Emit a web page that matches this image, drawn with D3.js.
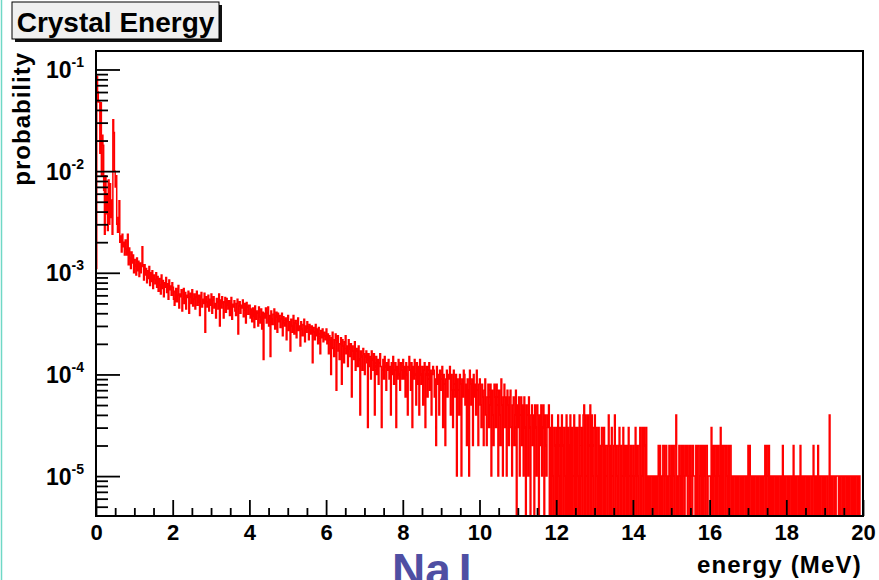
<!DOCTYPE html>
<html>
<head>
  <meta charset="utf-8">
  <title>Crystal Energy</title>
  <script src="https://d3js.org/d3.v7.min.js"></script>
  <style>
    body { margin: 0; background: #fff; }
    svg { display: block; font-family: "Liberation Sans", Arial, sans-serif; font-weight: bold; }
    .axis text { font-size: 22px; font-weight: bold; font-family: "Liberation Sans", Arial, sans-serif; fill: #000; }
    .axis line { stroke: #000; stroke-width: 1.8; }
  </style>
</head>
<body>
  <div id="chart"></div>
  <script>
    // canvas size
    const width = 879;
    const height = 580;

    // histogram: 1000 bins of 0.02 MeV, counts per 1e5 events (1 count = 1e-5 probability)
    const binWidth = 0.02;
    const probPerCount = 1e-5;

    // 0 - 2 MeV
    const counts_0_2 = [
      110, 8600, 6000, 4800, 4800, 1500, 4700, 900, 2250, 1800, 650, 240, 900, 380, 600, 260, 820, 300, 750, 350,
      520, 240, 3200, 2400, 1000, 700, 900, 300, 250, 350, 510, 200, 230, 160, 240, 180, 200, 150, 210, 170,
      150, 240, 120, 175, 140, 110, 160, 125, 150, 100, 135, 118, 95, 140, 105, 130, 92, 125, 100, 115,
      180, 120, 85, 120, 95, 110, 80, 105, 88, 115, 75, 100, 82, 105, 70, 95, 86, 78, 100, 72,
      92, 66, 88, 75, 62, 95, 70, 84, 58, 80, 72, 90, 64, 78, 55, 85, 68, 74, 60, 80];
    // 2 - 4 MeV
    const counts_2_4 = [
      72, 55, 48, 66, 70, 52, 60, 75, 45, 62, 58, 68, 42, 55, 70, 50, 64, 44, 60, 57,
      66, 40, 58, 63, 50, 68, 47, 55, 62, 44, 57, 66, 48, 52, 60, 38, 58, 64, 46, 55,
      50, 63, 26, 58, 52, 46, 60, 42, 55, 48, 62, 40, 54, 58, 45, 50, 36, 56, 52, 44,
      62, 30, 54, 45, 58, 50, 36, 52, 57, 41, 56, 48, 44, 53, 38, 50, 57, 35, 49, 46,
      53, 42, 38, 50, 55, 25, 47, 52, 40, 48, 45, 54, 37, 50, 43, 32, 51, 46, 39, 48];
    // 4 - 6 MeV
    const counts_4_6 = [
      48, 36, 44, 33, 45, 38, 29, 47, 35, 42, 40, 30, 46, 37, 32, 44, 28, 41, 14, 40,
      36, 45, 32, 40, 46, 30, 38, 15, 42, 35, 31, 39, 44, 28, 37, 41, 26, 40, 33, 38,
      29, 35, 40, 24, 37, 32, 30, 36, 22, 34, 38, 27, 33, 17, 35, 30, 26, 38, 25, 32,
      34, 23, 31, 36, 27, 30, 19, 33, 28, 24, 31, 35, 21, 30, 26, 33, 29, 22, 31, 27,
      25, 30, 13, 29, 26, 22, 31, 24, 28, 20, 29, 25, 16, 27, 23, 28, 21, 26, 24, 22];
    // 6 - 8 MeV
    const counts_6_8 = [
      28, 20, 25, 16, 24, 22, 10, 23, 26, 18, 15, 22, 25, 7, 21, 24, 17, 14, 20, 23,
      8, 22, 19, 13, 21, 24, 16, 19, 12, 22, 18, 15, 20, 6, 19, 17, 14, 21, 11, 18,
      17, 12, 19, 14, 4, 17, 15, 11, 18, 16, 10, 15, 17, 13, 3, 16, 12, 15, 9, 17,
      14, 11, 16, 4, 13, 15, 10, 14, 8, 13, 16, 12, 3, 11, 14, 9, 15, 12, 7, 13,
      11, 14, 9, 12, 4, 13, 10, 15, 8, 11, 13, 3, 12, 9, 14, 10, 7, 13, 11, 9];
    // 8 - 10 MeV
    const counts_8_10 = [
      14, 9, 12, 6, 13, 10, 4, 12, 15, 11, 7, 13, 3, 12, 9, 14, 10, 5, 13, 8,
      12, 4, 14, 10, 8, 12, 5, 11, 13, 3, 10, 12, 6, 9, 13, 7, 11, 4, 10, 12,
      11, 6, 9, 2, 12, 8, 10, 4, 11, 7, 9, 12, 3, 10, 8, 2, 9, 11, 6, 10,
      9, 12, 4, 10, 7, 3, 11, 8, 6, 10, 1, 9, 7, 4, 10, 8, 1, 9, 6, 11,
      10, 5, 8, 2, 9, 7, 1, 11, 8, 5, 9, 2, 10, 6, 8, 4, 11, 7, 2, 8];
    // 10 - 12 MeV
    const counts_10_12 = [
      9, 5, 3, 8, 6, 2, 7, 9, 4, 2, 6, 8, 3, 5, 8, 1, 7, 4, 2, 8,
      6, 3, 8, 5, 1, 7, 4, 2, 9, 5, 1, 6, 8, 3, 6, 1, 7, 5, 2, 6,
      7, 3, 1, 5, 6, 2, 4, 7, 0, 5, 3, 6, 1, 4, 6, 2, 5, 1, 6, 3,
      0, 5, 4, 1, 6, 3, 0, 4, 5, 2, 4, 0, 5, 3, 1, 5, 4, 0, 4, 2,
      5, 1, 3, 5, 0, 4, 2, 1, 4, 3, 5, 0, 3, 0, 4, 1, 0, 3, 2, 0];
    // 12 - 14 MeV
    const counts_12_14 = [
      3, 0, 4, 1, 0, 3, 0, 4, 2, 0, 3, 1, 0, 4, 0, 3, 0, 2, 4, 0,
      3, 0, 1, 4, 0, 3, 0, 3, 1, 0, 4, 0, 1, 3, 0, 4, 5, 0, 4, 1,
      0, 4, 0, 2, 5, 0, 4, 1, 0, 3, 4, 0, 3, 1, 0, 3, 0, 2, 0, 3,
      2, 0, 3, 0, 2, 1, 0, 2, 4, 0, 2, 0, 3, 1, 0, 2, 4, 0, 2, 1,
      0, 2, 3, 0, 2, 0, 1, 3, 0, 2, 1, 0, 2, 0, 3, 1, 0, 2, 0, 1];
    // 14 - 16 MeV
    const counts_14_16 = [
      2, 0, 1, 3, 0, 2, 1, 0, 2, 3, 0, 1, 3, 0, 3, 2, 0, 3, 0, 1,
      0, 1, 0, 1, 1, 0, 1, 0, 1, 0, 1, 0, 1, 2, 0, 2, 0, 1, 0, 2,
      2, 0, 1, 2, 0, 1, 0, 2, 1, 0, 2, 0, 2, 1, 0, 2, 4, 0, 1, 0,
      2, 1, 0, 2, 0, 2, 1, 0, 2, 1, 2, 0, 1, 2, 0, 2, 1, 0, 2, 1,
      1, 0, 2, 0, 2, 2, 0, 1, 2, 0, 2, 0, 2, 1, 0, 2, 2, 0, 1, 1];
    // 16 - 18 MeV
    const counts_16_18 = [
      1, 0, 3, 0, 2, 0, 2, 1, 0, 2, 0, 2, 1, 0, 3, 0, 2, 0, 2, 2,
      0, 2, 1, 0, 2, 0, 2, 2, 0, 1, 0, 1, 1, 0, 1, 0, 1, 0, 1, 1,
      0, 1, 0, 1, 0, 1, 1, 0, 1, 0, 2, 0, 2, 1, 0, 1, 0, 1, 0, 1,
      1, 0, 1, 0, 1, 1, 0, 1, 0, 1, 0, 1, 2, 0, 2, 1, 0, 2, 0, 1,
      0, 1, 0, 1, 1, 0, 1, 0, 1, 0, 1, 1, 0, 1, 0, 2, 0, 1, 0, 1];
    // 18 - 20 MeV
    const counts_18_20 = [
      1, 0, 1, 0, 1, 1, 0, 1, 0, 2, 0, 1, 0, 1, 1, 0, 1, 0, 2, 0,
      1, 0, 1, 0, 1, 1, 0, 1, 0, 1, 0, 1, 1, 0, 1, 2, 0, 1, 0, 1,
      0, 2, 0, 1, 0, 1, 1, 0, 1, 0, 1, 0, 1, 1, 0, 0, 4, 0, 1, 0,
      1, 1, 0, 1, 0, 1, 1, 1, 0, 1, 0, 1, 1, 0, 1, 0, 1, 1, 0, 1,
      0, 1, 0, 1, 1, 0, 1, 0, 1, 0, 1, 1, 0, 1, 0, 1, 0, 0, 0, 0];

    const counts = [].concat(counts_0_2, counts_2_4, counts_4_6, counts_6_8, counts_8_10,
      counts_10_12, counts_12_14, counts_14_16, counts_16_18, counts_18_20);

    // axis ticks and labels
    const xTickValues = [0, 2, 4, 6, 8, 10, 12, 14, 16, 18, 20];
    const yDecades = [1e-5, 1e-4, 1e-3, 1e-2, 1e-1];
    const yExponents = ["-5", "-4", "-3", "-2", "-1"];

    const titleText = "Crystal Energy";
    const xTitle = "energy (MeV)";
    const yTitle = "probability";

    // plot frame
    const frameLeft = 96, frameRight = 863, frameTop = 51, frameBottom = 516;

    const x = d3.scaleLinear().domain([0, 20]).range([frameLeft, frameRight]);
    const y = d3.scaleLog().domain([4.05e-6, 0.152]).range([frameBottom, frameTop]);

    const svg = d3.select("#chart").append("svg")
      .attr("width", width)
      .attr("height", height);

    // slide edge on the left
    svg.append("line")
      .attr("x1", 1.5).attr("x2", 1.5).attr("y1", 0).attr("y2", height)
      .attr("stroke", "#6fd8c6").attr("stroke-width", 1.5);

    svg.append("clipPath").attr("id", "plotClip")
      .append("rect")
      .attr("x", frameLeft).attr("y", frameTop)
      .attr("width", frameRight - frameLeft).attr("height", frameBottom - frameTop);

    // histogram as a step line, empty bins fall below the frame
    const pts = counts.map((c, i) => [i * binWidth, c]);
    pts.push([counts.length * binWidth, counts[counts.length - 1]]);

    const line = d3.line()
      .x(d => x(d[0]))
      .y(d => y(d[1] > 0 ? d[1] * probPerCount : 1e-6))
      .curve(d3.curveStepAfter);

    svg.append("path")
      .attr("clip-path", "url(#plotClip)")
      .attr("d", line(pts))
      .attr("fill", "none")
      .attr("stroke", "#ff0000")
      .attr("stroke-width", 1.5);

    // x axis: major + minor ticks pointing inward
    const xMinor = d3.range(0, 20.001, 0.5).filter(v => v % 2 !== 0);
    svg.append("g").attr("class", "axis")
      .attr("transform", `translate(0,${frameBottom})`)
      .call(d3.axisBottom(x).tickValues(xMinor).tickSize(-8).tickFormat(""))
      .call(g => g.select(".domain").remove());
    svg.append("g").attr("class", "axis")
      .attr("transform", `translate(0,${frameBottom})`)
      .call(d3.axisBottom(x).tickValues(xTickValues).tickSize(-16).tickPadding(8).tickFormat(d3.format("d")))
      .call(g => g.select(".domain").remove());

    // y axis: decades + minor ticks
    const yMinor = [];
    [1e-6, 1e-5, 1e-4, 1e-3, 1e-2, 1e-1].forEach(d => {
      for (let m = 2; m <= 9; m++) {
        const v = d * m;
        if (v >= y.domain()[0] && v <= y.domain()[1]) yMinor.push(v);
      }
    });
    svg.append("g").attr("class", "axis")
      .attr("transform", `translate(${frameLeft},0)`)
      .call(d3.axisLeft(y).tickValues(yMinor).tickSize(-12).tickFormat(""))
      .call(g => g.select(".domain").remove());
    svg.append("g").attr("class", "axis")
      .attr("transform", `translate(${frameLeft},0)`)
      .call(d3.axisLeft(y).tickValues(yDecades).tickSize(-24).tickFormat(""))
      .call(g => g.select(".domain").remove());

    const yLabels = svg.append("g")
      .selectAll("text")
      .data(yDecades)
      .join("text")
      .attr("x", 46)
      .attr("y", d => y(d) + 8.5)
      .attr("font-size", 23);
    yLabels.append("tspan").text("10");
    yLabels.append("tspan")
      .attr("dy", -11)
      .attr("font-size", 14)
      .text((d, i) => yExponents[i]);

    // frame
    svg.append("rect")
      .attr("x", frameLeft).attr("y", frameTop)
      .attr("width", frameRight - frameLeft).attr("height", frameBottom - frameTop)
      .attr("fill", "none")
      .attr("stroke", "#000")
      .attr("stroke-width", 2);

    // axis titles
    svg.append("text")
      .attr("transform", `translate(30,52) rotate(-90)`)
      .attr("text-anchor", "end")
      .attr("font-size", 24)
      .attr("letter-spacing", 1)
      .text(yTitle);

    svg.append("text")
      .attr("x", 862)
      .attr("y", 573)
      .attr("text-anchor", "end")
      .attr("font-size", 24)
      .attr("letter-spacing", 1.2)
      .text(xTitle);

    // title box with shadow
    svg.append("rect")
      .attr("x", 15).attr("y", 5).attr("width", 207).attr("height", 37)
      .attr("fill", "#111");
    svg.append("rect")
      .attr("x", 12).attr("y", 2).attr("width", 207).attr("height", 37)
      .attr("fill", "#f0f0f0").attr("stroke", "#000").attr("stroke-width", 1);
    svg.append("text")
      .attr("x", 115.5).attr("y", 31.5)
      .attr("text-anchor", "middle")
      .attr("font-size", 28)
      .text(titleText);

    // crystal name at the bottom, cut by the page edge as in the slide
    const nai = svg.append("text")
      .attr("x", 392).attr("y", 586)
      .attr("font-size", 46)
      .attr("fill", "#4f4fa3")
      .text("Na");
    nai.append("tspan").attr("dx", 8).text("I");
  </script>
</body>
</html>
